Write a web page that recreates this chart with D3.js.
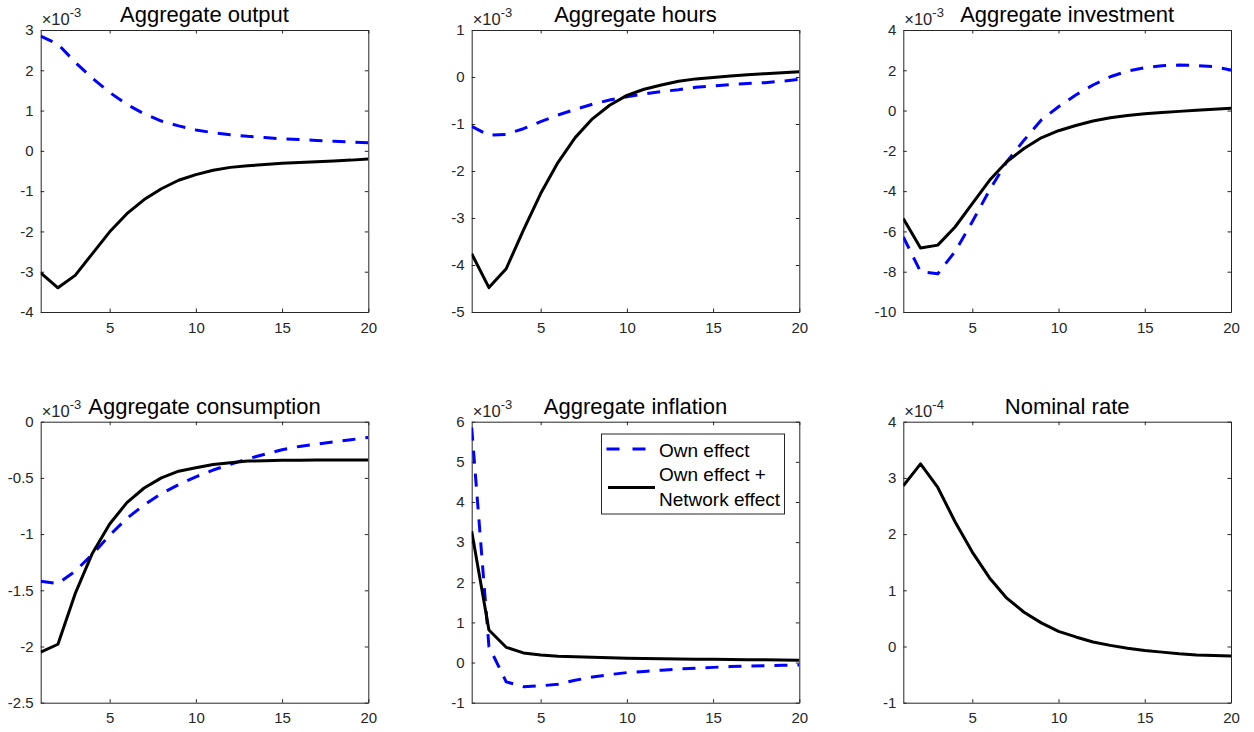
<!DOCTYPE html>
<html>
<head>
<meta charset="utf-8">
<script src="https://cdn.jsdelivr.net/npm/d3@7"></script>
<style>
  body { margin: 0; background: #fff; }
  text { font-family: "Liberation Sans", Arial, Helvetica, sans-serif; }
</style>
</head>
<body>
<div class="canvas"></div>
<script>
// horizon (quarters)
const periods = [1, 2, 3, 4, 5, 6, 7, 8, 9, 10, 11, 12, 13, 14, 15, 16, 17, 18, 19, 20];
const xTicks = [5, 10, 15, 20];

const titles = ["Aggregate output", "Aggregate hours", "Aggregate investment",
                "Aggregate consumption", "Aggregate inflation", "Nominal rate"];
const exponents = ["-3", "-3", "-3", "-3", "-3", "-4"];

// y ranges (in units of 10^exponent)
const yDomains = [[-4, 3], [-5, 1], [-10, 4], [-2.5, 0], [-1, 6], [-1, 4]];
const yTicks = [
  [-4, -3, -2, -1, 0, 1, 2, 3],
  [-5, -4, -3, -2, -1, 0, 1],
  [-10, -8, -6, -4, -2, 0, 2, 4],
  [-2.5, -2, -1.5, -1, -0.5, 0],
  [-1, 0, 1, 2, 3, 4, 5, 6],
  [-1, 0, 1, 2, 3, 4]
];

// own effect (blue dashed)
const outputOwn = [2.85, 2.65, 2.2, 1.8, 1.45, 1.15, 0.92, 0.74, 0.62, 0.52, 0.45, 0.40, 0.36, 0.33, 0.30, 0.28, 0.26, 0.24, 0.22, 0.20];
const hoursOwn = [-1.05, -1.24, -1.22, -1.10, -0.95, -0.81, -0.69, -0.58, -0.49, -0.42, -0.36, -0.31, -0.27, -0.22, -0.19, -0.16, -0.14, -0.12, -0.09, -0.05];
const investOwn = [-6.27, -8.0, -8.1, -7.0, -5.52, -3.95, -2.54, -1.47, -0.47, 0.19, 0.77, 1.27, 1.68, 1.96, 2.13, 2.23, 2.26, 2.24, 2.18, 2.01];
const consOwn = [-1.42, -1.44, -1.33, -1.18, -1.01, -0.86, -0.74, -0.64, -0.56, -0.49, -0.43, -0.38, -0.33, -0.29, -0.25, -0.22, -0.20, -0.18, -0.16, -0.14];
const inflOwn = [5.85, 0.4, -0.48, -0.6, -0.58, -0.54, -0.44, -0.36, -0.30, -0.25, -0.22, -0.19, -0.16, -0.14, -0.12, -0.10, -0.09, -0.08, -0.07, -0.06];

// own effect + network effect (black solid)
const outputTotal = [-3.03, -3.40, -3.09, -2.55, -2.01, -1.56, -1.21, -0.94, -0.73, -0.59, -0.48, -0.41, -0.37, -0.34, -0.31, -0.29, -0.27, -0.25, -0.23, -0.20];
const hoursTotal = [-3.76, -4.48, -4.08, -3.26, -2.48, -1.82, -1.29, -0.89, -0.60, -0.39, -0.26, -0.17, -0.09, -0.04, -0.01, 0.02, 0.05, 0.07, 0.09, 0.11];
const investTotal = [-5.36, -6.82, -6.68, -5.78, -4.62, -3.46, -2.54, -1.88, -1.35, -1.0, -0.74, -0.52, -0.36, -0.24, -0.16, -0.09, -0.04, 0.01, 0.06, 0.11];
const consTotal = [-2.05, -1.98, -1.53, -1.17, -0.91, -0.72, -0.59, -0.50, -0.44, -0.41, -0.38, -0.365, -0.35, -0.347, -0.344, -0.342, -0.341, -0.34, -0.34, -0.34];
const inflTotal = [3.27, 0.81, 0.38, 0.24, 0.19, 0.16, 0.145, 0.13, 0.12, 0.11, 0.10, 0.095, 0.09, 0.085, 0.08, 0.075, 0.07, 0.07, 0.065, 0.06];
const rateTotal = [2.86, 3.25, 2.83, 2.22, 1.68, 1.22, 0.86, 0.61, 0.42, 0.27, 0.17, 0.08, 0.02, -0.03, -0.07, -0.10, -0.13, -0.15, -0.16, -0.17];

const ownSeries = [outputOwn, hoursOwn, investOwn, consOwn, inflOwn, null];
const totalSeries = [outputTotal, hoursTotal, investTotal, consTotal, inflTotal, rateTotal];

const legendLabels = ["Own effect", ["Own effect +", "Network effect"]];

// layout (matches matlab subplot grid)
const lefts = [40.7, 471.7, 903.3];
const rights = [368.3, 799.3, 1231];
const tops = [30, 421.7];
const bottoms = [312, 702.7];
const axisColor = "#262626";
const tickLen = 3.5;

const svg = d3.select(".canvas").append("svg").attr("width", 1254).attr("height", 732);

for (let p = 0; p < 6; p++) {
    const col = p % 3, row = Math.floor(p / 3);
    const x = d3.scaleLinear().domain([1, 20]).range([lefts[col], rights[col]]);
    const y = d3.scaleLinear().domain(yDomains[p]).range([bottoms[row], tops[row]]);
    const g = svg.append("g");

    g.append("clipPath").attr("id", "clip" + p)
        .append("rect")
        .attr("x", lefts[col]).attr("y", tops[row])
        .attr("width", rights[col] - lefts[col]).attr("height", bottoms[row] - tops[row]);

    // axes (ticks inward on all four sides)
    const bottomAxis = d3.axisBottom(x).tickValues(xTicks).tickSizeInner(-tickLen).tickSizeOuter(0).tickPadding(10);
    const topAxis = d3.axisTop(x).tickValues(xTicks).tickSizeInner(-tickLen).tickSizeOuter(0).tickFormat("");
    const leftAxis = d3.axisLeft(y).tickValues(yTicks[p]).tickSizeInner(-tickLen).tickSizeOuter(0).tickPadding(7)
        .tickFormat(d => String(d));
    const rightAxis = d3.axisRight(y).tickValues(yTicks[p]).tickSizeInner(-tickLen).tickSizeOuter(0).tickFormat("");

    const axes = [
        [bottomAxis, `translate(0,${bottoms[row]})`],
        [topAxis, `translate(0,${tops[row]})`],
        [leftAxis, `translate(${lefts[col]},0)`],
        [rightAxis, `translate(${rights[col]},0)`]
    ];
    for (const [ax, tr] of axes) {
        const a = g.append("g").attr("transform", tr).call(ax);
        a.select(".domain").attr("stroke", axisColor).attr("stroke-width", 1);
        a.selectAll(".tick line").attr("stroke", axisColor).attr("stroke-width", 1);
        a.selectAll(".tick text").attr("fill", axisColor).attr("font-size", 15)
            .attr("font-family", "'Liberation Sans', Arial, sans-serif");
    }

    const line = d3.line().x((d, i) => x(periods[i])).y(d => y(d));

    if (ownSeries[p]) {
        g.append("path").datum(ownSeries[p])
            .attr("clip-path", `url(#clip${p})`)
            .attr("d", line)
            .attr("fill", "none")
            .attr("stroke", "#0000ff")
            .attr("stroke-width", 3)
            .attr("stroke-dasharray", "13,10")
            .attr("stroke-linejoin", "round");
    }
    g.append("path").datum(totalSeries[p])
        .attr("clip-path", `url(#clip${p})`)
        .attr("d", line)
        .attr("fill", "none")
        .attr("stroke", "#000")
        .attr("stroke-width", 3)
        .attr("stroke-linejoin", "round");

    // exponent label
    const ex = g.append("text")
        .attr("x", lefts[col] + 1)
        .attr("y", tops[row] - 5)
        .attr("font-size", 16.5)
        .attr("fill", axisColor);
    ex.append("tspan").text("\u00d710");
    ex.append("tspan").attr("dy", -8).attr("font-size", 13).text(exponents[p]);

    // title
    g.append("text")
        .attr("x", (lefts[col] + rights[col]) / 2)
        .attr("y", tops[row] - 8)
        .attr("text-anchor", "middle")
        .attr("font-size", 22)
        .attr("fill", "#000")
        .text(titles[p]);
}

// legend inside the inflation panel
const lg = svg.append("g");
lg.append("rect")
    .attr("x", 601.5).attr("y", 434)
    .attr("width", 183).attr("height", 80)
    .attr("fill", "#fff")
    .attr("stroke", axisColor)
    .attr("stroke-width", 1);
lg.append("line")
    .attr("x1", 606.5).attr("x2", 652).attr("y1", 449).attr("y2", 449)
    .attr("stroke", "#0000ff").attr("stroke-width", 3).attr("stroke-dasharray", "13,13");
lg.append("line")
    .attr("x1", 608).attr("x2", 655).attr("y1", 487.5).attr("y2", 487.5)
    .attr("stroke", "#000").attr("stroke-width", 3);
lg.append("text")
    .attr("x", 659).attr("y", 456.5)
    .attr("font-size", 19).attr("fill", "#000")
    .text(legendLabels[0]);
lg.append("text")
    .attr("x", 659).attr("y", 481)
    .attr("font-size", 19).attr("fill", "#000")
    .text(legendLabels[1][0]);
lg.append("text")
    .attr("x", 659).attr("y", 506)
    .attr("font-size", 19).attr("fill", "#000")
    .text(legendLabels[1][1]);
</script>
</body>
</html>
